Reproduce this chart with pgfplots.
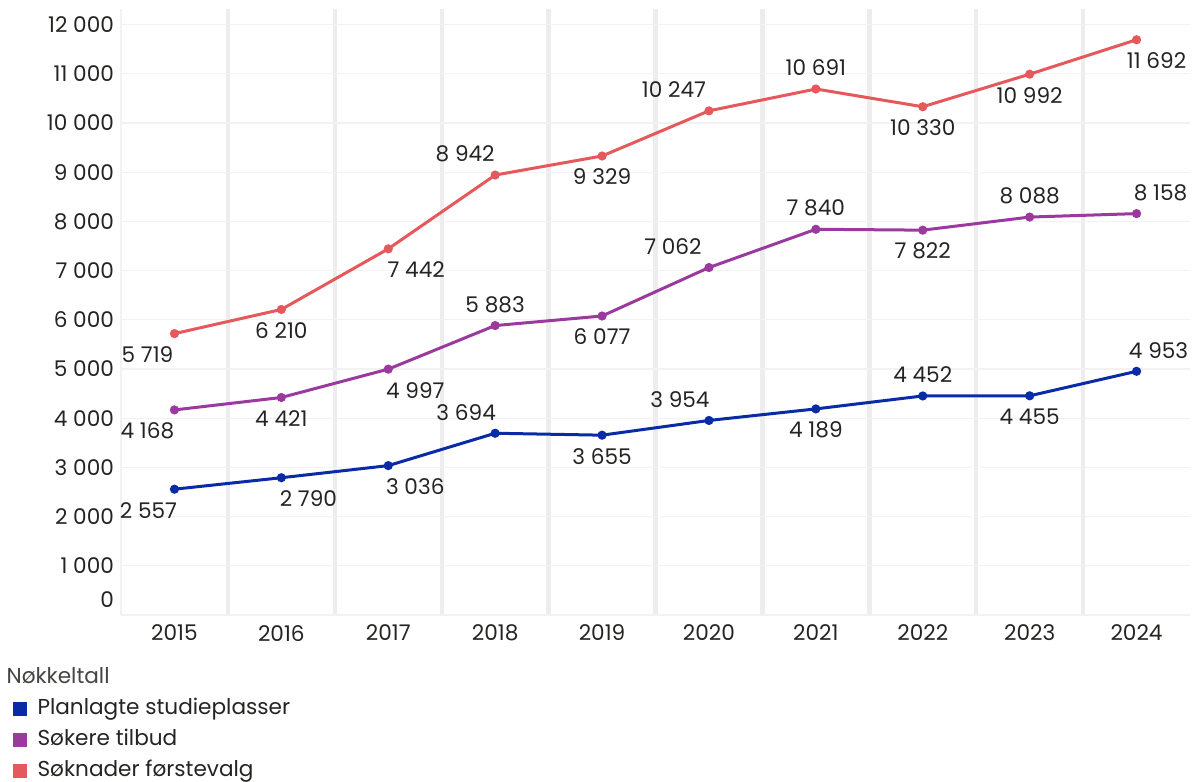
\documentclass[border=0pt]{standalone}
\usepackage{pgfplots}
\pgfplotsset{compat=1.18}
\usepackage{pgfplotstable}
\usepackage{fontspec}
\setmainfont{Poppins}

\definecolor{cblue}{HTML}{0A2BA6}
\definecolor{cpurp}{HTML}{9B3A9E}
\definecolor{cred}{HTML}{E5585C}
\definecolor{labc}{HTML}{252423}
\definecolor{gridc}{HTML}{F2F2F2}
\definecolor{bandc}{HTML}{EDEDED}

% x = year index, dx/dy = label offsets in pt
\pgfplotstableread{
x y dx dy
0 5719 -13.5 -10.5
1 6210 0 -10.5
2 7442 14 -10.5
3 8942 -15 10.5
4 9329 0 -10.5
5 10247 -17.5 10.5
6 10691 0 10.5
7 10330 0 -10.5
8 10992 0 -10.5
9 11692 10 -10.5
}\soknader

\pgfplotstableread{
x y dx dy
0 4168 -13.5 -10.5
1 4421 0 -10.5
2 4997 13.5 -10.5
3 5883 0 10.5
4 6077 0 -10.5
5 7062 -18 10.5
6 7840 0 10.5
7 7822 0 -10.5
8 8088 0 10.5
9 8158 12 10.5
}\sokere

\pgfplotstableread{
x y dx dy
0 2557 -13 -10.5
1 2790 13.5 -10.5
2 3036 13.5 -10.5
3 3694 -14.5 10.5
4 3655 0 -10.5
5 3954 -14.5 10.5
6 4189 0 -10.5
7 4452 0 10.5
8 4455 0 -10.5
9 4953 11 10.5
}\plasser

\begin{document}
\begin{tikzpicture}
\begin{axis}[
    width=534.5pt, height=303pt, scale only axis,
    xmin=-0.5, xmax=9.5, ymin=0, ymax=12317,
    axis line style={draw=none},
    tick style={draw=none},
    scaled y ticks=false,
    xtick={0,1,2,3,4,5,6,7,8,9},
    xticklabels={2015,2016,2017,2018,2019,2020,2021,2022,2023,2024},
    minor xtick={0.5,1.5,2.5,3.5,4.5,5.5,6.5,7.5,8.5},
    xminorgrids, minor grid style={draw=bandc, line width=2.2pt},
    ytick={1000,2000,3000,4000,5000,6000,7000,8000,9000,10000,11000,12000},
    ymajorgrids, major grid style={draw=gridc, line width=0.6pt},
    extra y ticks={0},
    extra y tick style={grid=major, tick label style={yshift=7.5pt}},
    extra x ticks={-0.5}, extra x tick labels={},
    extra x tick style={grid=major},
    tick label style={font=\fontsize{10.8}{13}\selectfont, text=labc},
    xticklabel style={yshift=-1.5pt},
    /pgf/number format/1000 sep={\ },
    /pgf/number format/assume math mode=true,
    every axis plot/.append style={line width=1.5pt, mark=*, mark size=1.5pt},
    nodes near coords={\pgfmathprintnumber{\pgfplotspointmeta}},
    point meta=y,
    visualization depends on={\thisrow{dx} \as \ldx},
    visualization depends on={\thisrow{dy} \as \ldy},
    every node near coord/.append style={anchor=center, xshift=\ldx pt,
        yshift=\ldy pt, text=labc, font=\fontsize{10.8}{13}\selectfont},
    legend image code/.code={\fill[#1, draw=none] (-2.2pt,-3.5pt) rectangle (4.8pt,3.5pt);},
    legend cell align=left,
    legend style={at={(axis description cs:-0.1018,-0.0825)}, anchor=north west,
        draw=none, fill=none, inner sep=0pt, font=\fontsize{10.8}{13}\selectfont,
        text=labc, row sep=3pt,
        nodes={inner sep=1pt, text height=8pt, text depth=2.5pt}},
]
\addlegendimage{empty legend}
\addlegendentry{\hspace*{-11pt}\textcolor{labc!85}{Nøkkeltall}}

\addplot[color=cblue, mark options={fill=cblue}] table[x=x, y=y] {\plasser};
\addlegendentry{\hspace*{4.5pt}Planlagte studieplasser}
\addplot[color=cpurp, mark options={fill=cpurp}] table[x=x, y=y] {\sokere};
\addlegendentry{\hspace*{4.5pt}Søkere tilbud}
\addplot[color=cred, mark options={fill=cred}] table[x=x, y=y] {\soknader};
\addlegendentry{\hspace*{4.5pt}Søknader førstevalg}
\end{axis}
\pgfresetboundingbox
\path[use as bounding box] (-60.5pt,-83pt) rectangle (538.5pt,307.5pt);
\end{tikzpicture}
\end{document}
